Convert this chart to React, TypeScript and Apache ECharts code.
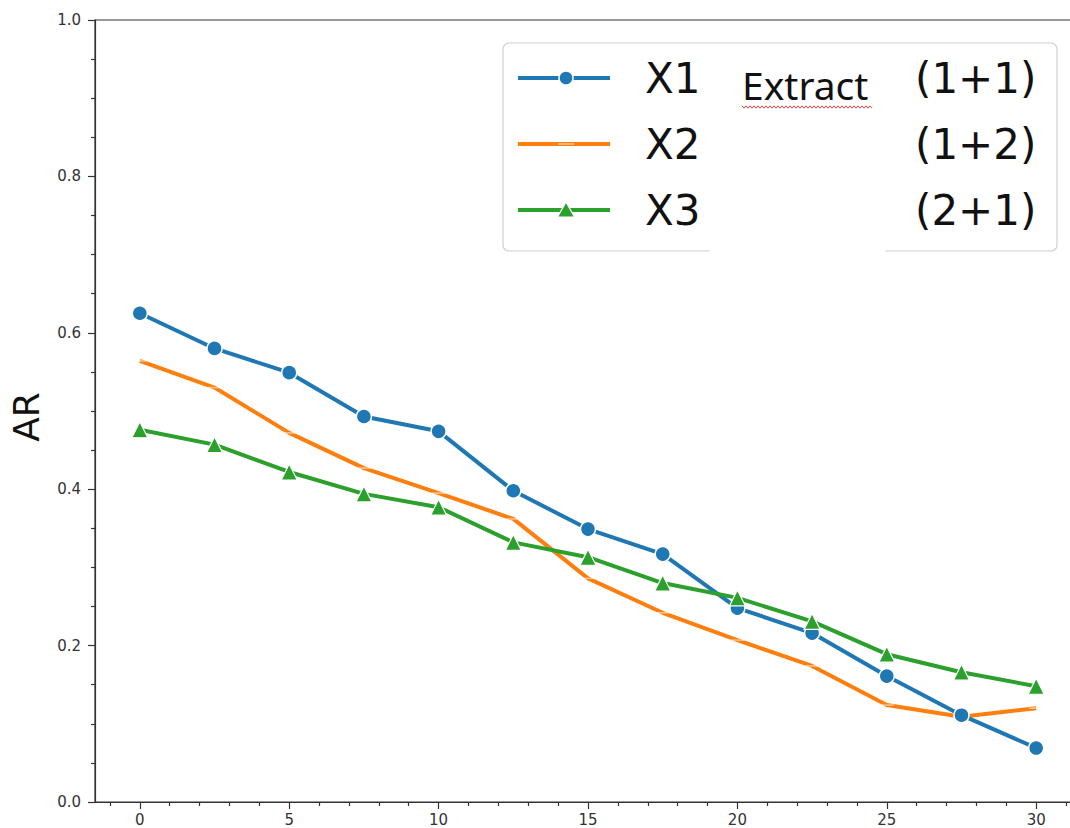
import React, { useEffect, useRef } from "react";
import * as echarts from "echarts";

// ---- data ----
const xValues = [0, 2.5, 5, 7.5, 10, 12.5, 15, 17.5, 20, 22.5, 25, 27.5, 30];
const seriesX1 = [0.625, 0.58, 0.549, 0.493, 0.474, 0.398, 0.349, 0.317, 0.248, 0.216, 0.161, 0.111, 0.069];
const seriesX2 = [0.564, 0.53, 0.472, 0.427, 0.395, 0.362, 0.286, 0.242, 0.207, 0.174, 0.124, 0.109, 0.12];
const seriesX3 = [0.476, 0.457, 0.422, 0.394, 0.377, 0.332, 0.313, 0.28, 0.261, 0.231, 0.189, 0.166, 0.148];
const seriesNames = ["X1", "X2", "X3"];
const seriesSuffix = ["(1+1)", "(1+2)", "(2+1)"];
const xMajorTicks = [0, 5, 10, 15, 20, 25, 30];
const xMinorTicks = [-1, 1, 2, 3, 4, 6, 7, 8, 9, 11, 12, 13, 14, 16, 17, 18, 19, 21, 22, 23, 24, 26, 27, 28, 29, 31];

const BLUE = "#1f77b4";
const ORANGE = "#ff7f0e";
const GREEN = "#2ca02c";
const AXIS = "#333333";
const FONT = '"DejaVu Sans", sans-serif';

const pairs = (ys: number[]) => xValues.map((x, i) => [x, ys[i]]);

function buildLegend() {
  const rows = [78, 144, 210];
  const colors = [BLUE, ORANGE, GREEN];
  const els: any[] = [];
  els.push({
    type: "rect",
    shape: { x: 503, y: 43, width: 554, height: 208, r: 6 },
    style: { fill: "rgba(255,255,255,0.92)", stroke: "#cfcfcf", lineWidth: 1.2 },
    z: 10,
  });
  rows.forEach((y, i) => {
    els.push({
      type: "line",
      shape: { x1: 518, y1: y, x2: 610, y2: y },
      style: { stroke: colors[i], lineWidth: 4 },
      z: 11,
    });
    if (i === 0) {
      els.push({
        type: "circle",
        shape: { cx: 566, cy: y, r: 7 },
        style: { fill: BLUE, stroke: "#fff", lineWidth: 1.5 },
        z: 12,
      });
    } else if (i === 1) {
      els.push({
        type: "line",
        shape: { x1: 558, y1: y, x2: 574, y2: y },
        style: { stroke: "rgba(255,255,255,0.55)", lineWidth: 1.5 },
        z: 12,
      });
    } else {
      els.push({
        type: "polygon",
        shape: { points: [[566, y - 8], [557.5, y + 7], [574.5, y + 7]] },
        style: { fill: GREEN, stroke: "#fff", lineWidth: 1.2 },
        z: 12,
      });
    }
    els.push({
      type: "text",
      style: { text: seriesNames[i], x: 645, y, font: `42px ${FONT}`, fill: "#111", align: "left", verticalAlign: "middle" },
      z: 12,
    });
    els.push({
      type: "text",
      style: { text: seriesSuffix[i], x: 915, y, font: `42px ${FONT}`, fill: "#111", align: "left", verticalAlign: "middle" },
      z: 12,
    });
  });
  // white patch covering part of the legend
  els.push({
    type: "rect",
    shape: { x: 710, y: 112, width: 175, height: 146 },
    style: { fill: "#ffffff" },
    z: 13,
  });
  els.push({
    type: "text",
    style: { text: "Extract", x: 742, y: 84, font: `39px "Noto Sans", sans-serif`, fill: "#111", align: "left", verticalAlign: "middle" },
    z: 14,
  });
  const wave: number[][] = [];
  for (let x = 742, k = 0; x <= 872; x += 2, k++) wave.push([x, 107 + (k % 2 === 0 ? -1.2 : 1.2)]);
  els.push({
    type: "polyline",
    shape: { points: wave },
    style: { stroke: "#e04848", lineWidth: 1, fill: null },
    z: 14,
  });
  els.push({
    type: "text",
    rotation: Math.PI / 2,
    x: 26,
    y: 417,
    style: { text: "AR", x: 0, y: 0, font: `36px ${FONT}`, fill: "#111", align: "center", verticalAlign: "middle" },
    z: 5,
  });
  return els;
}

export default function App() {
  const ref = useRef<HTMLDivElement>(null);
  useEffect(() => {
    if (!ref.current) return;
    const chart = echarts.init(ref.current, undefined, { renderer: "svg" });
    const tickStyle = { color: AXIS, width: 1.2 };
    chart.setOption({
      animation: false,
      backgroundColor: "#ffffff",
      grid: {
        left: 95, right: 0, top: 20, bottom: 26,
        containLabel: false, outerBoundsMode: "none",
        show: true, borderColor: AXIS, borderWidth: 1.2, backgroundColor: "transparent",
      },
      xAxis: [
        {
          type: "value",
          min: -1.5,
          max: 31.5,
          position: "bottom",
          axisLine: { show: true, onZero: false, lineStyle: tickStyle },
          splitLine: { show: false },
          axisTick: { show: true, length: 7, customValues: xMajorTicks, lineStyle: tickStyle },
          axisLabel: { customValues: xMajorTicks, margin: 10, fontSize: 15, lineHeight: 15, color: AXIS, fontFamily: FONT },
        },
        {
          type: "value",
          min: -1.5,
          max: 31.5,
          position: "bottom",
          axisLine: { show: false, onZero: false },
          splitLine: { show: false },
          axisTick: { show: true, length: 4, customValues: xMinorTicks, lineStyle: tickStyle },
          axisLabel: { show: false },
        },
      ],
      yAxis: {
        type: "value",
        min: 0,
        max: 1,
        interval: 0.2,
        position: "left",
        axisLine: { show: true, onZero: false, lineStyle: tickStyle },
        splitLine: { show: false },
        axisTick: { show: true, length: 7, lineStyle: tickStyle },
        minorTick: { show: true, splitNumber: 4, length: 4, lineStyle: tickStyle },
        minorSplitLine: { show: false },
        axisLabel: { margin: 14, fontSize: 15, color: AXIS, fontFamily: FONT, formatter: (v: number) => v.toFixed(1) },
      },
      series: [
        {
          name: seriesNames[0],
          type: "line",
          data: pairs(seriesX1),
          symbol: "circle",
          symbolSize: 15,
          lineStyle: { color: BLUE, width: 4 },
          itemStyle: { color: BLUE, borderColor: "#fff", borderWidth: 1.5 },
          z: 3,
        },
        {
          name: seriesNames[1],
          type: "line",
          data: pairs(seriesX2),
          symbol: "rect",
          symbolSize: [14, 1.5],
          lineStyle: { color: ORANGE, width: 4 },
          itemStyle: { color: "rgba(255,255,255,0.55)" },
          z: 2,
        },
        {
          name: seriesNames[2],
          type: "line",
          data: pairs(seriesX3),
          symbol: "triangle",
          symbolSize: 16,
          lineStyle: { color: GREEN, width: 4 },
          itemStyle: { color: GREEN, borderColor: "#fff", borderWidth: 1.2 },
          z: 4,
        },
      ],
      graphic: buildLegend(),
    });
    return () => chart.dispose();
  }, []);
  return <div ref={ref} style={{ position: "fixed", left: 0, top: 0, width: 1081, height: 828 }} />;
}
